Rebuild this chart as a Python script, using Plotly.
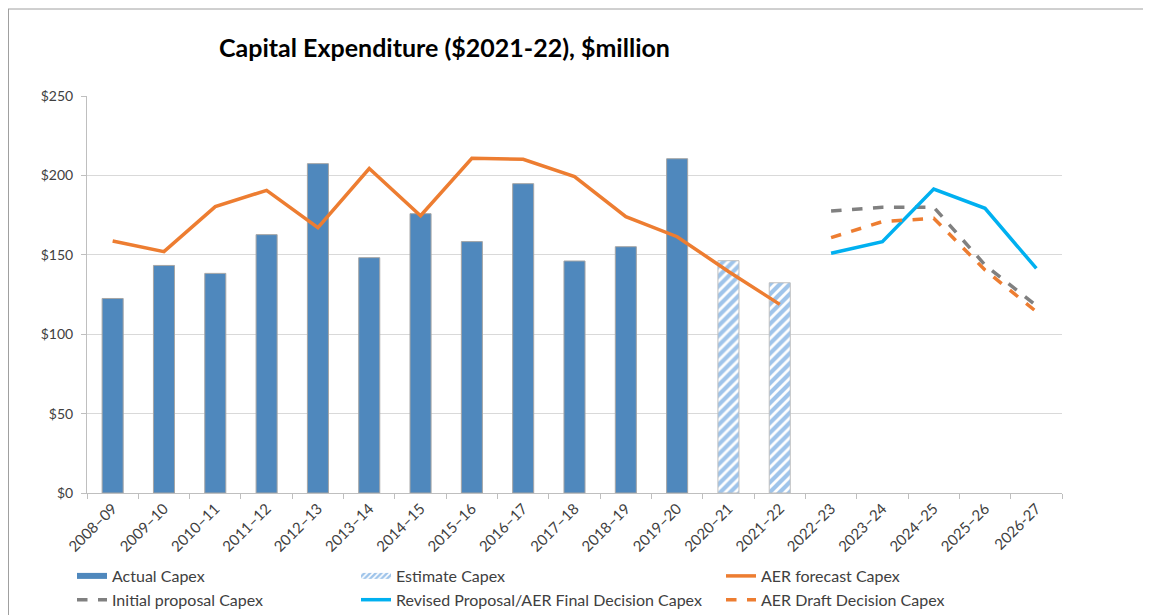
import plotly.graph_objects as go

categories = ["2008–09", "2009–10", "2010–11", "2011–12", "2012–13", "2013–14", "2014–15",
              "2015–16", "2016–17", "2017–18", "2018–19", "2019–20", "2020–21", "2021–22",
              "2022–23", "2023–24", "2024–25", "2025–26", "2026-27"]

actual_years = categories[:12]
actual_capex = [122.5, 143.3, 138.3, 162.7, 207.4, 148.2, 175.9, 158.3, 194.8, 146.1, 155.1, 210.5]

estimate_years = categories[12:14]
estimate_capex = [146.3, 132.4]

aer_forecast_years = categories[:14]
aer_forecast = [158.7, 152.0, 180.3, 190.6, 167.1, 204.3, 174.6, 210.8, 210.1, 199.2, 174.0, 161.4, 139.5, 118.8]

forecast_years = categories[14:]
initial_proposal = [177.6, 179.9, 180.0, 143.6, 118.0]
revised_final = [151.0, 158.3, 191.4, 179.3, 141.4]
aer_draft = [160.8, 170.9, 173.0, 140.4, 114.2]

y_ticks = [0, 50, 100, 150, 200, 250]
y_tick_labels = ["$0", "$50", "$100", "$150", "$200", "$250"]

FONT = "Lato"
TXT = "#404040"
BLUE = "#4F88BD"
HATCH = "#3F8AD6"
ORANGE = "#ED7D31"
GREY = "#808080"
CYAN = "#00B0F0"

fig = go.Figure()

# Bars
fig.add_trace(go.Bar(x=actual_years, y=actual_capex, name="Actual Capex", width=0.41,
                     marker=dict(color=BLUE, line=dict(color="#A5A5A5", width=1)),
                     showlegend=False, hoverinfo="skip"))
fig.add_trace(go.Bar(x=estimate_years, y=estimate_capex, name="Estimate Capex", width=0.41,
                     marker=dict(color="white", line=dict(color="#BFBFBF", width=1),
                                 pattern=dict(shape="/", fgcolor=HATCH, bgcolor="white",
                                              size=7, solidity=0.6)),
                     showlegend=False, hoverinfo="skip"))

# Lines
fig.add_trace(go.Scatter(x=aer_forecast_years, y=aer_forecast, mode="lines",
                         line=dict(color=ORANGE, width=3.5), showlegend=False, hoverinfo="skip"))
fig.add_trace(go.Scatter(x=forecast_years, y=initial_proposal, mode="lines",
                         line=dict(color=GREY, width=3.5, dash="dash"), showlegend=False, hoverinfo="skip"))
fig.add_trace(go.Scatter(x=forecast_years, y=revised_final, mode="lines",
                         line=dict(color=CYAN, width=3.5), showlegend=False, hoverinfo="skip"))
fig.add_trace(go.Scatter(x=forecast_years, y=aer_draft, mode="lines",
                         line=dict(color=ORANGE, width=3.5, dash="dash"), showlegend=False, hoverinfo="skip"))

# Legend entries (three columns)
def leg_fill(name, legend, color, pattern=None):
    kw = dict(x=[None], y=[None], mode="none", fill="toself", fillcolor=color, name=name,
              legend=legend, hoverinfo="skip")
    if pattern:
        kw["fillpattern"] = pattern
    return go.Scatter(**kw)

def leg_line(name, legend, color, dash="solid"):
    return go.Scatter(x=[None], y=[None], mode="lines", name=name, legend=legend,
                      line=dict(color=color, width=3.5, dash=dash), hoverinfo="skip")

fig.add_trace(leg_fill("Actual Capex", "legend", BLUE))
fig.add_trace(leg_line("Initial proposal Capex", "legend", GREY, "dash"))
fig.add_trace(leg_fill("Estimate Capex", "legend2", "white",
                       dict(shape="/", fgcolor=HATCH, bgcolor="white", size=4, solidity=0.6)))
fig.add_trace(leg_line("Revised Proposal/AER Final Decision Capex", "legend2", CYAN))
fig.add_trace(leg_line("AER forecast Capex", "legend3", ORANGE))
fig.add_trace(leg_line("AER Draft Decision Capex", "legend3", ORANGE, "dash"))

# the page places the figure 8 px in from the top-left corner
OFF = 8
W, H = 1151 - OFF, 615 - OFF
L, T = 87 - OFF, 96 - OFF
R = W - (1062 - OFF)
B = H - (493 - OFF)
pw, ph = W - L - R, H - T - B

def px_x(p):
    return (p - OFF - L) / pw

def px_y(p):
    return (H - B - (p - OFF)) / ph

leg_common = dict(orientation="v", yanchor="top", xanchor="left", bgcolor="rgba(0,0,0,0)",
                  font=dict(family=FONT, size=16, color=TXT), tracegroupgap=0,
                  itemwidth=30, traceorder="normal")

fig.update_layout(
    width=W, height=H,
    margin=dict(l=L, r=R, t=T, b=B, autoexpand=False),
    paper_bgcolor="white", plot_bgcolor="white",
    barmode="overlay",
    font=dict(family=FONT, size=14, color=TXT),
    legend=dict(x=px_x(72), y=px_y(559), **leg_common),
    legend2=dict(x=px_x(356), y=px_y(559), **leg_common),
    legend3=dict(x=px_x(721), y=px_y(559), **leg_common),
    xaxis=dict(type="category", categoryorder="array", categoryarray=categories,
               range=[-0.5, len(categories) - 0.5], tickangle=-45,
               ticks="outside", tickson="boundaries", ticklen=5, tickcolor="#BFBFBF",
               showline=True, linecolor="#BFBFBF", linewidth=1, showgrid=False,
               tickfont=dict(family=FONT, size=15, color=TXT)),
    yaxis=dict(range=[0, 250], tickmode="array", tickvals=y_ticks, ticktext=y_tick_labels,
               ticks="outside", ticklen=5, tickcolor="#BFBFBF", showline=True, linecolor="#BFBFBF",
               gridcolor="#D9D9D9", gridwidth=1, zeroline=False, ticklabelstandoff=5,
               tickfont=dict(family=FONT, size=14, color=TXT)),
    annotations=[dict(text="<b>Capital Expenditure ($2021-22), $million</b>",
                      xref="paper", yref="paper", x=px_x(444), y=px_y(47),
                      xanchor="center", yanchor="middle", showarrow=False,
                      font=dict(family=FONT, size=25, color="black"))],
    shapes=[
        dict(type="line", xref="paper", yref="paper", x0=px_x(OFF), x1=px_x(1151),
             y0=px_y(9), y1=px_y(9), line=dict(color="#A0A0A0", width=1)),
        dict(type="line", xref="paper", yref="paper", x0=px_x(OFF + 0.5), x1=px_x(OFF + 0.5),
             y0=px_y(9), y1=px_y(615), line=dict(color="#A0A0A0", width=1)),
    ],
)

fig.write_html("out.html")
